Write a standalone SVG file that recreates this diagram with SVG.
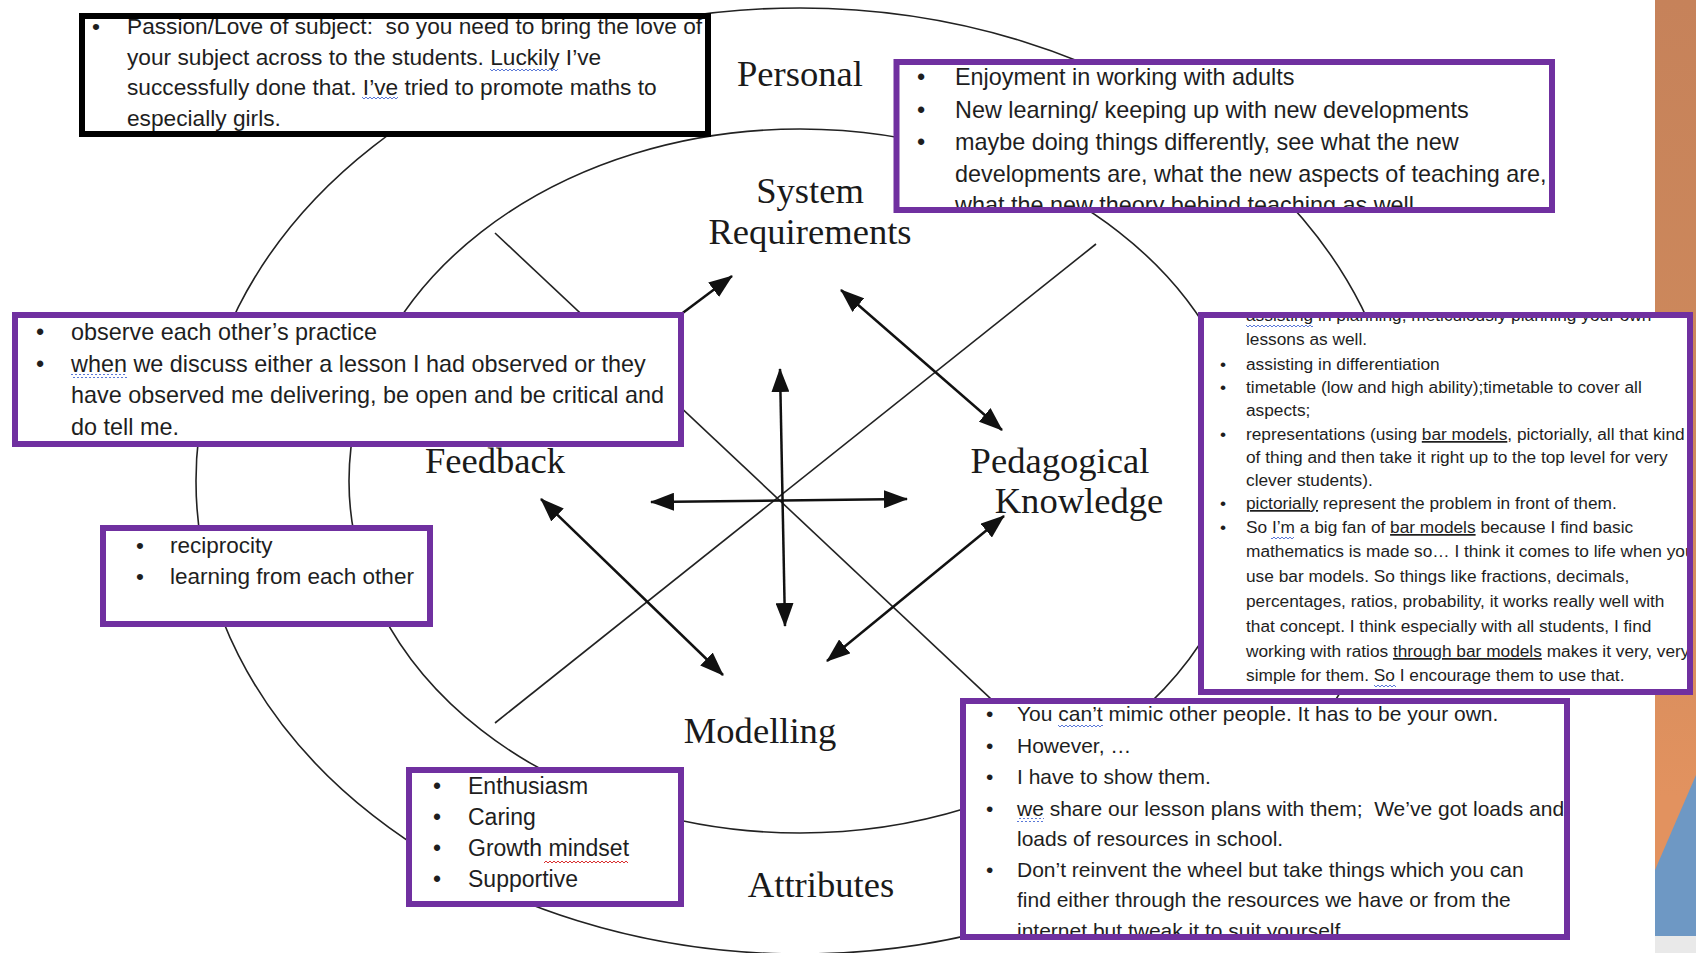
<svg xmlns="http://www.w3.org/2000/svg" width="1696" height="953" viewBox="0 0 1696 953">
<style>
.box{fill:#fff;stroke:#7030a0;stroke-width:6}
.bbox{fill:#fff;stroke:#000;stroke-width:6}
.t{font-family:"Liberation Sans",Arial,sans-serif;fill:#1e1e1e}
.lbl{font-family:"Liberation Serif","Times New Roman",serif;font-size:36.6px;fill:#1a1a1a;text-anchor:middle}
.arr{stroke:#111;stroke-width:2.5;fill:none}
.thin{stroke:#222;stroke-width:1.6;fill:none}
.ul{text-decoration:underline}
.wb{fill:url(#wavyB)}
.wr{fill:url(#wavyR)}
</style>
<defs>
<marker id="ah" viewBox="0 0 24 18" refX="23" refY="9" markerWidth="24" markerHeight="18" markerUnits="userSpaceOnUse" orient="auto-start-reverse"><path d="M0,0 L24,9 L0,18 z" fill="#111"/></marker>
<linearGradient id="stripe" x1="0" y1="0" x2="0" y2="1"><stop offset="0" stop-color="#c6825a"/><stop offset="0.5" stop-color="#cf8a5c"/><stop offset="0.85" stop-color="#e2925f"/></linearGradient>
<pattern id="wavyB" x="0" y="0" width="4" height="4" patternUnits="userSpaceOnUse"><path d="M0,3 L2,1 L4,3" fill="none" stroke="#5a78d8" stroke-width="1"/></pattern>
<pattern id="wavyR" x="0" y="0" width="4" height="4" patternUnits="userSpaceOnUse"><path d="M0,3 L2,1 L4,3" fill="none" stroke="#d83030" stroke-width="1"/></pattern>
<clipPath id="c1"><rect x="85" y="19" width="620" height="112"/></clipPath>
<clipPath id="c2"><rect x="899.5" y="65" width="649.5" height="142"/></clipPath>
<clipPath id="c3"><rect x="18" y="318" width="660" height="123"/></clipPath>
<clipPath id="c4"><rect x="106" y="531" width="321" height="90"/></clipPath>
<clipPath id="c5"><rect x="412" y="773" width="266" height="128"/></clipPath>
<clipPath id="c6"><rect x="1204" y="318" width="483" height="371"/></clipPath>
<clipPath id="c7"><rect x="966" y="704" width="598" height="230"/></clipPath>
</defs>
<rect width="1696" height="953" fill="#fff"/>
<g id="stripe-bg">
<rect x="1655" y="0" width="41" height="936" fill="url(#stripe)"/>
<polygon points="1655,870 1696,775 1696,936 1655,936" fill="#6e98c4"/>
<rect x="1655" y="936" width="41" height="17" fill="#e9e9e9"/>
</g>
<g id="connectors">
<ellipse class="thin" cx="800" cy="481" rx="604" ry="473"/>
<ellipse class="thin" cx="800" cy="481" rx="451" ry="352"/>
<line class="thin" x1="495" y1="233" x2="1040" y2="745"/>
<line class="thin" x1="1096" y1="244" x2="495" y2="723"/>
<line class="arr" x1="780" y1="369" x2="785" y2="626" marker-start="url(#ah)" marker-end="url(#ah)"/>
<line class="arr" x1="651" y1="502" x2="907" y2="499" marker-start="url(#ah)" marker-end="url(#ah)"/>
<line class="arr" x1="660" y1="330" x2="732" y2="276" marker-end="url(#ah)"/>
<line class="arr" x1="841" y1="290" x2="1002" y2="430" marker-start="url(#ah)" marker-end="url(#ah)"/>
<line class="arr" x1="541" y1="499" x2="723" y2="675" marker-start="url(#ah)" marker-end="url(#ah)"/>
<line class="arr" x1="827" y1="661" x2="1004" y2="516" marker-start="url(#ah)" marker-end="url(#ah)"/>
</g>
<g id="label-personal"><text class="lbl" x="800" y="86" font-size="38">Personal</text></g>
<g id="label-system"><text class="lbl" x="810" y="203">System</text><text class="lbl" x="810" y="244">Requirements</text></g>
<g id="label-feedback"><text class="lbl" x="495" y="473">Feedback</text></g>
<g id="label-pedagogical"><text class="lbl" x="1060" y="473">Pedagogical</text><text class="lbl" x="1079" y="513">Knowledge</text></g>
<g id="label-modelling"><text class="lbl" x="760" y="743">Modelling</text></g>
<g id="label-attributes"><text class="lbl" x="821" y="897">Attributes</text></g>

<g id="box-passion">
<rect class="bbox" x="82" y="16" width="626" height="118"/>
<g clip-path="url(#c1)" class="t" font-size="22.7">
<text x="92" y="34">•</text>
<text x="127" y="34" xml:space="preserve">Passion/Love of subject:  so you need to bring the love of</text>
<text x="127" y="65">your subject across to the students. Luckily I’ve</text>
<text x="127" y="95">successfully done that. I’ve tried to promote maths to</text>
<text x="127" y="126">especially girls.</text>
<rect class="wb" x="490" y="67" width="68" height="4"/>
<rect class="wb" x="362" y="97" width="36" height="4"/>
</g>
</g>

<g id="box-personal">
<rect class="box" x="896.5" y="62" width="655.5" height="148"/>
<g clip-path="url(#c2)" class="t" font-size="23.4">
<text x="917" y="85">•</text><text x="955" y="85">Enjoyment in working with adults</text>
<text x="917" y="118">•</text><text x="955" y="118">New learning/ keeping up with new developments</text>
<text x="917" y="150">•</text><text x="955" y="150">maybe doing things differently, see what the new</text>
<text x="955" y="182">developments are, what the new aspects of teaching are,</text>
<text x="955" y="213">what the new theory behind teaching as well</text>
</g>
</g>

<g id="box-feedback">
<rect class="box" x="15" y="315" width="666" height="129"/>
<g clip-path="url(#c3)" class="t" font-size="23.4">
<text x="36" y="340">•</text><text x="71" y="340">observe each other’s practice</text>
<text x="36" y="372">•</text><text x="71" y="372">when we discuss either a lesson I had observed or they</text>
<text x="71" y="403">have observed me delivering, be open and be critical and</text>
<text x="71" y="435">do tell me.</text>
<rect class="wb" x="71" y="374" width="56" height="4"/>
</g>
</g>

<g id="box-reciprocity">
<rect class="box" x="103" y="528" width="327" height="96"/>
<g clip-path="url(#c4)" class="t" font-size="22.5">
<text x="136" y="553">•</text><text x="170" y="553">reciprocity</text>
<text x="136" y="584">•</text><text x="170" y="584">learning from each other</text>
</g>
</g>

<g id="box-attributes">
<rect class="box" x="409" y="770" width="272" height="134"/>
<g clip-path="url(#c5)" class="t" font-size="23">
<text x="433" y="794">•</text><text x="468" y="794">Enthusiasm</text>
<text x="433" y="825">•</text><text x="468" y="825">Caring</text>
<text x="433" y="856">•</text><text x="468" y="856">Growth mindset</text>
<text x="433" y="887">•</text><text x="468" y="887">Supportive</text>
<rect class="wr" x="544" y="859" width="84" height="4"/>
</g>
</g>

<g id="box-pedagogical">
<rect class="box" x="1201" y="315" width="489" height="377"/>
<g clip-path="url(#c6)" class="t" font-size="17.3" fill="#2e2e2e">
<text x="1220" y="321">•</text><text x="1246" y="321">assisting in planning, meticulously planning your own</text>
<text x="1246" y="345">lessons as well.</text>
<text x="1220" y="370">•</text><text x="1246" y="370">assisting in differentiation</text>
<text x="1220" y="393">•</text><text x="1246" y="393">timetable (low and high ability);timetable to cover all</text>
<text x="1246" y="416">aspects;</text>
<text x="1220" y="440">•</text><text x="1246" y="440">representations (using <tspan class="ul">bar models</tspan>, pictorially, all that kind</text>
<text x="1246" y="463">of thing and then take it right up to the top level for very</text>
<text x="1246" y="486">clever students).</text>
<text x="1220" y="509">•</text><text x="1246" y="509"><tspan class="ul">pictorially</tspan> represent the problem in front of them.</text>
<text x="1220" y="533">•</text><text x="1246" y="533">So I’m a big fan of <tspan class="ul">bar models</tspan> because I find basic</text>
<text x="1246" y="557">mathematics is made so… I think it comes to life when you</text>
<text x="1246" y="582">use bar models. So things like fractions, decimals,</text>
<text x="1246" y="607">percentages, ratios, probability, it works really well with</text>
<text x="1246" y="632">that concept. I think especially with all students, I find</text>
<text x="1246" y="657">working with ratios <tspan class="ul">through bar models</tspan> makes it very, very</text>
<text x="1246" y="681">simple for them. So I encourage them to use that.</text>
<rect class="wb" x="1246" y="323" width="67" height="4"/>
<rect class="wb" x="1271" y="535" width="23" height="4"/>
<rect class="wb" x="1374" y="683" width="22" height="4"/>
</g>
</g>

<g id="box-modelling">
<rect class="box" x="963" y="701" width="604" height="236"/>
<g clip-path="url(#c7)" class="t" font-size="21">
<text x="986" y="721">•</text><text x="1017" y="721">You can’t mimic other people. It has to be your own.</text>
<text x="986" y="753">•</text><text x="1017" y="753">However, …</text>
<text x="986" y="784">•</text><text x="1017" y="784">I have to show them.</text>
<text x="986" y="816">•</text><text x="1017" y="816" xml:space="preserve">we share our lesson plans with them;  We’ve got loads and</text>
<text x="1017" y="846">loads of resources in school.</text>
<text x="986" y="877">•</text><text x="1017" y="877">Don’t reinvent the wheel but take things which you can</text>
<text x="1017" y="907">find either through the resources we have or from the</text>
<text x="1017" y="938">internet but tweak it to suit yourself</text>
<rect class="wb" x="1058" y="723" width="45" height="4"/>
<rect class="wb" x="1017" y="818" width="27" height="4"/>
</g>
</g>
</svg>
